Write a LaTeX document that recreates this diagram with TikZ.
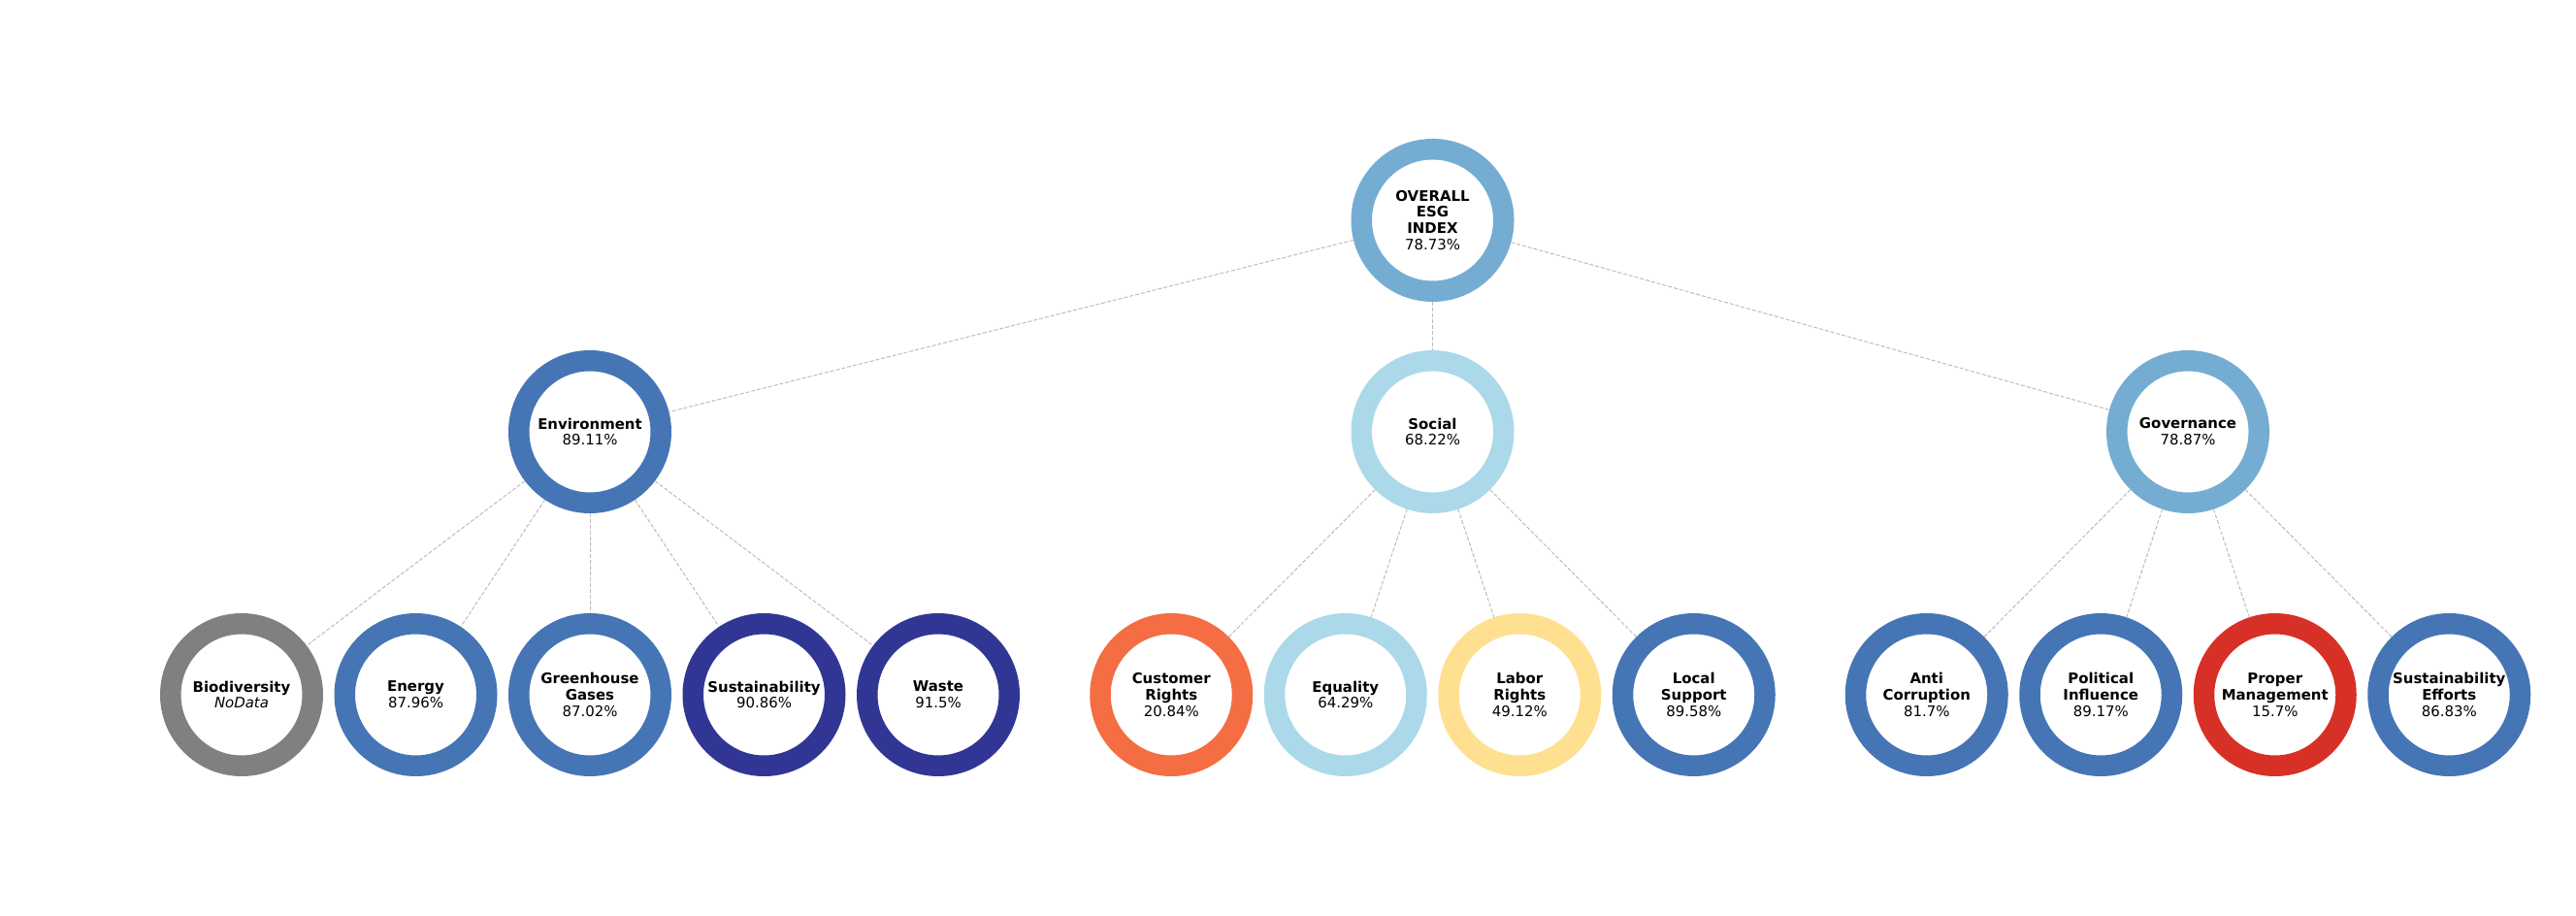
\documentclass[tikz,border=0pt]{standalone}
\usepackage{fontspec}
\setmainfont{DejaVu Sans}
\usepackage{tikz}
\usetikzlibrary{positioning}

\definecolor{esgblue}{HTML}{4575B4}
\definecolor{esgmid}{HTML}{74ADD1}
\definecolor{esglight}{HTML}{ABD9E9}
\definecolor{esgnavy}{HTML}{313695}
\definecolor{esggray}{HTML}{808080}
\definecolor{esgorange}{HTML}{F46D43}
\definecolor{esgyellow}{HTML}{FEE090}
\definecolor{esgred}{HTML}{D73027}
\definecolor{linkgray}{HTML}{BBBBBB}

\tikzset{
  ring/.style={circle, draw=#1, fill=white, line width=0.215cm,
    minimum size=1.465cm, inner sep=0pt, outer sep=0.1075cm,
    align=center, font=\fontsize{4.25}{4.8}\selectfont},
  link/.style={draw=linkgray, line width=0.28pt, dash pattern=on 0.04cm off 0.02cm}
}

\begin{document}
\begin{tikzpicture}
  \useasboundingbox (0,0) rectangle (26.55,9.44);
  % top
  \node[ring=esgmid] (esg) at (14.765,7.17) {\textbf{OVERALL}\\\textbf{ESG}\\\textbf{INDEX}\\78.73\%};
  % pillars
  \node[ring=esgblue] (env) at (6.08,4.99) {\textbf{Environment}\\89.11\%};
  \node[ring=esglight] (soc) at (14.765,4.99) {\textbf{Social}\\68.22\%};
  \node[ring=esgmid] (gov) at (22.55,4.99) {\textbf{Governance}\\78.87\%};
  % environment topics
  \node[ring=esggray] (bio) at (2.49,2.28) {\textbf{Biodiversity}\\\textit{NoData}};
  \node[ring=esgblue] (energy) at (4.285,2.28) {\textbf{Energy}\\87.96\%};
  \node[ring=esgblue] (ghg) at (6.08,2.28) {\textbf{Greenhouse}\\\textbf{Gases}\\87.02\%};
  \node[ring=esgnavy] (sust) at (7.875,2.28) {\textbf{Sustainability}\\90.86\%};
  \node[ring=esgnavy] (waste) at (9.67,2.28) {\textbf{Waste}\\91.5\%};
  % social topics
  \node[ring=esgorange] (cust) at (12.0725,2.28) {\textbf{Customer}\\\textbf{Rights}\\20.84\%};
  \node[ring=esglight] (equal) at (13.8675,2.28) {\textbf{Equality}\\64.29\%};
  \node[ring=esgyellow] (labor) at (15.6625,2.28) {\textbf{Labor}\\\textbf{Rights}\\49.12\%};
  \node[ring=esgblue] (local) at (17.4575,2.28) {\textbf{Local}\\\textbf{Support}\\89.58\%};
  % governance topics
  \node[ring=esgblue] (anti) at (19.8575,2.28) {\textbf{Anti}\\\textbf{Corruption}\\81.7\%};
  \node[ring=esgblue] (pol) at (21.6525,2.28) {\textbf{Political}\\\textbf{Influence}\\89.17\%};
  \node[ring=esgred] (proper) at (23.4475,2.28) {\textbf{Proper}\\\textbf{Management}\\15.7\%};
  \node[ring=esgblue] (effort) at (25.2425,2.28) {\textbf{Sustainability}\\\textbf{Efforts}\\86.83\%};
  % links
  \draw[link] (esg) -- (env);
  \draw[link] (esg) -- (soc);
  \draw[link] (esg) -- (gov);
  \draw[link] (env) -- (bio);
  \draw[link] (env) -- (energy);
  \draw[link] (env) -- (ghg);
  \draw[link] (env) -- (sust);
  \draw[link] (env) -- (waste);
  \draw[link] (soc) -- (cust);
  \draw[link] (soc) -- (equal);
  \draw[link] (soc) -- (labor);
  \draw[link] (soc) -- (local);
  \draw[link] (gov) -- (anti);
  \draw[link] (gov) -- (pol);
  \draw[link] (gov) -- (proper);
  \draw[link] (gov) -- (effort);
\end{tikzpicture}
\end{document}
